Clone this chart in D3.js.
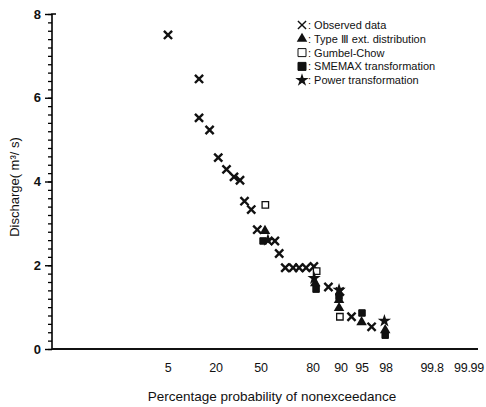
<!DOCTYPE html>
<html>
<head>
<meta charset="utf-8">
<script src="https://cdn.jsdelivr.net/npm/d3@7"></script>
<style>
  body { margin: 0; background: #fff; }
  text { font-family: "Liberation Sans", Arial, sans-serif; fill: #111; }
</style>
</head>
<body>
<div id="chart"></div>
<script>
// probability ticks (percent of nonexceedance) and discharge ticks
var probTicks = [5, 20, 50, 80, 90, 95, 98, 99.8, 99.99];
var qTicks = [0, 2, 4, 6, 8];

// observed data: [probability %, discharge]
var observed = [
  [5.0, 7.50], [14.7, 6.45], [14.7, 5.52], [18.0, 5.23], [21.5, 4.57],
  [27.0, 4.29], [32.0, 4.11], [36.0, 4.03], [39.0, 3.53], [43.5, 3.33],
  [47.5, 2.85], [58.0, 2.58], [60.5, 2.28], [64.0, 1.94], [68.5, 1.94],
  [72.0, 1.94], [76.0, 1.94], [80.3, 1.97], [85.5, 1.48], [89.6, 1.37],
  [92.5, 0.77], [96.2, 0.53]
];
var typeIII = [[52.3, 2.82], [80.8, 1.57], [89.3, 1.17], [89.3, 0.98], [94.9, 0.64], [97.9, 0.45]];
var gumbel = [[52.5, 3.44], [81.3, 1.86], [89.6, 0.77]];
var smemax = [[51.2, 2.58], [81.1, 1.43], [89.3, 1.26], [95.0, 0.86], [97.9, 0.33]];
var power = [[54.0, 2.60], [80.4, 1.69], [89.3, 1.41], [97.8, 0.67]];

var legendNames = ["Observed data", "Type \u2162 ext. distribution", "Gumbel-Chow",
                   "SMEMAX transformation", "Power transformation"];

var svgWidth = 486, svgHeight = 407;
var svg = d3.select("#chart").append("svg")
  .attr("width", svgWidth).attr("height", svgHeight);

// the paper's probability axis, piecewise between its printed ticks
var xScale = d3.scaleLinear()
  .domain(probTicks)
  .range([168, 216, 261, 313, 341, 362, 386, 432, 469]);

var yScale = d3.scaleLinear().domain([0, 8]).range([349, 14]);

var axisX0 = 52, axisX1 = 478;

// y axis with minor ticks every 0.2
var yAxis = d3.axisLeft(yScale).tickValues(qTicks).tickSize(7).tickFormat(d3.format("d"));
var yMinor = d3.axisLeft(yScale).tickValues(d3.range(0, 8.01, 0.2)).tickSize(4).tickFormat("");

svg.append("g").attr("transform", `translate(${axisX0},0)`).call(yMinor)
  .call(g => g.select(".domain").remove())
  .selectAll("line").attr("stroke-width", 1.3);

var gy = svg.append("g").attr("transform", `translate(${axisX0},0)`).call(yAxis);
gy.select(".domain").attr("d", `M4,${yScale(8)}H0V${yScale(0)}`).attr("stroke-width", 1.6);
gy.selectAll("line").attr("stroke-width", 1.4);
gy.selectAll("text").attr("font-size", 13).attr("font-weight", "bold").attr("dx", -1);

// x axis: line only, labels at the printed probabilities
svg.append("line")
  .attr("x1", axisX0).attr("x2", axisX1)
  .attr("y1", yScale(0)).attr("y2", yScale(0))
  .attr("stroke", "#111").attr("stroke-width", 1.8);

svg.append("g").selectAll("text")
  .data(probTicks).enter().append("text")
  .attr("x", d => xScale(d))
  .attr("y", yScale(0) + 23)
  .attr("text-anchor", "middle")
  .attr("font-size", 12.5)
  .attr("letter-spacing", -0.3)
  .text(d => d);

// axis titles
svg.append("text")
  .attr("x", 272).attr("y", 401)
  .attr("text-anchor", "middle").attr("font-size", 13.5)
  .text("Percentage probability of nonexceedance");

svg.append("text")
  .attr("transform", `translate(19, 187) rotate(-90)`)
  .attr("text-anchor", "middle").attr("font-size", 13)
  .text("Discharge( m\u00B3/ s)");

// markers
var sym = {
  x: d3.symbol().type(d3.symbolTimes).size(45),
  tri: d3.symbol().type(d3.symbolTriangle).size(48),
  sq: d3.symbol().type(d3.symbolSquare).size(42),
  star: d3.symbol().type(d3.symbolStar).size(55)
};

function drawSeries(data, path, fill, stroke, sw) {
  svg.append("g").selectAll("path")
    .data(data).enter().append("path")
    .attr("d", path)
    .attr("transform", d => `translate(${xScale(d[0])},${yScale(d[1])})`)
    .attr("fill", fill).attr("stroke", stroke).attr("stroke-width", sw);
}

drawSeries(observed, sym.x, "none", "#111", 2.4);
drawSeries(gumbel, sym.sq, "#fff", "#111", 1.3);
drawSeries(smemax, sym.sq, "#111", "#111", 1);
drawSeries(typeIII, sym.tri, "#111", "none", 0);
drawSeries(power, sym.star, "#111", "none", 0);

// legend
var legendSyms = [
  {p: sym.x, fill: "none", stroke: "#111", sw: 1.4},
  {p: sym.tri, fill: "#111", stroke: "none", sw: 0},
  {p: d3.symbol().type(d3.symbolSquare).size(64), fill: "#fff", stroke: "#111", sw: 1},
  {p: d3.symbol().type(d3.symbolSquare).size(64), fill: "#111", stroke: "#111", sw: 1},
  {p: sym.star, fill: "#111", stroke: "none", sw: 0}
];

var legend = svg.append("g").attr("transform", "translate(302,25)");
legendNames.forEach(function(name, i) {
  var s = legendSyms[i];
  legend.append("path")
    .attr("d", s.p)
    .attr("transform", `translate(0,${i * 13.8})`)
    .attr("fill", s.fill).attr("stroke", s.stroke).attr("stroke-width", s.sw);
  legend.append("text")
    .attr("x", 6).attr("y", i * 13.8 + 4)
    .attr("font-size", 11)
    .text(": " + name);
});
</script>
</body>
</html>
